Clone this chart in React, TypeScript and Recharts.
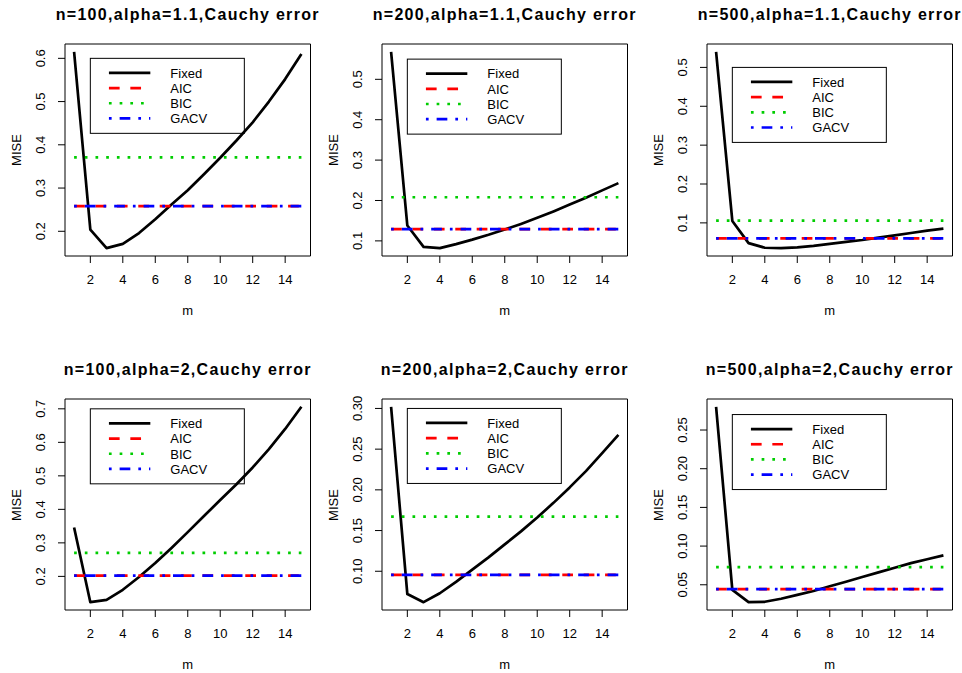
import React from 'react';
import { LineChart, Line, XAxis, YAxis, ReferenceLine, ReferenceArea, ReferenceDot } from 'recharts';

// m values on the x axis
const M = [1, 2, 3, 4, 5, 6, 7, 8, 9, 10, 11, 12, 13, 14, 15];
const X_TICKS = [2, 4, 6, 8, 10, 12, 14];

const TITLES = [
  'n=100,alpha=1.1,Cauchy error',
  'n=200,alpha=1.1,Cauchy error',
  'n=500,alpha=1.1,Cauchy error',
  'n=100,alpha=2,Cauchy error',
  'n=200,alpha=2,Cauchy error',
  'n=500,alpha=2,Cauchy error',
];

// MISE of the fixed-m estimator, one list per panel
const FIXED_100_11 = [0.615, 0.204, 0.161, 0.171, 0.196, 0.228, 0.262, 0.295, 0.332, 0.37, 0.41, 0.452, 0.5, 0.552, 0.61];
const FIXED_200_11 = [0.568, 0.138, 0.085, 0.082, 0.092, 0.103, 0.115, 0.128, 0.142, 0.157, 0.173, 0.19, 0.207, 0.225, 0.243];
const FIXED_500_11 = [0.54, 0.105, 0.048, 0.036, 0.035, 0.037, 0.041, 0.046, 0.051, 0.056, 0.062, 0.068, 0.074, 0.08, 0.085];
const FIXED_100_2 = [0.346, 0.123, 0.13, 0.16, 0.198, 0.24, 0.285, 0.332, 0.38, 0.428, 0.475, 0.525, 0.58, 0.64, 0.706];
const FIXED_200_2 = [0.302, 0.072, 0.062, 0.073, 0.087, 0.102, 0.117, 0.133, 0.149, 0.166, 0.184, 0.203, 0.223, 0.245, 0.2675];
const FIXED_500_2 = [0.28, 0.0435, 0.0275, 0.028, 0.032, 0.037, 0.042, 0.048, 0.054, 0.06, 0.066, 0.072, 0.078, 0.083, 0.088];
const FIXED = [FIXED_100_11, FIXED_200_11, FIXED_500_11, FIXED_100_2, FIXED_200_2, FIXED_500_2];

// selected-m MISE (constant over m), one value per panel
const AIC = [0.258, 0.129, 0.06, 0.202, 0.0955, 0.0443];
const BIC = [0.371, 0.208, 0.106, 0.27, 0.167, 0.0728];
const GACV = [0.258, 0.129, 0.06, 0.202, 0.0955, 0.0443];

// y tick labels per panel
const Y_TICKS = [
  ['0.2', '0.3', '0.4', '0.5', '0.6'],
  ['0.1', '0.2', '0.3', '0.4', '0.5'],
  ['0.1', '0.2', '0.3', '0.4', '0.5'],
  ['0.2', '0.3', '0.4', '0.5', '0.6', '0.7'],
  ['0.10', '0.15', '0.20', '0.25', '0.30'],
  ['0.05', '0.10', '0.15', '0.20', '0.25'],
];

// where the legend's top-left corner sits (data coords)
const LEGEND_X = 2;
const LEGEND_TOP = [0.6, 0.55, 0.5, 0.7, 0.3, 0.27];

const FONT = '"Liberation Sans", Arial, Helvetica, sans-serif';
const LW = 2.7;

const SERIES = [
  { name: 'Fixed', color: '#000000', dash: undefined as string | undefined },
  { name: 'AIC', color: '#ff0000', dash: '10.7 10.7' },
  { name: 'BIC', color: '#00cd00', dash: '2.7 8' },
  { name: 'GACV', color: '#0000ff', dash: '2.7 8 10.7 8' },
];

// layout of the plot boxes (page pixels)
const COL_LEFT = [65, 382, 707];
const ROW_TOP = [44, 399];
const ROW_H = [212, 211];
const BOX_W = 245.5;
const PANEL_W = 320;
const PANEL_H = 340;
const Y_AXIS_W = 40;
const X_AXIS_H = 30;

const YTick = (props: any) => {
  const { x, y, payload, labels } = props;
  const label = labels.find((t: string) => Number(t) === payload.value) ?? String(payload.value);
  return (
    <text
      transform={`translate(${x},${y}) rotate(-90)`}
      textAnchor="middle"
      fontSize={13}
      fontFamily={FONT}
      fill="#000"
    >
      {label}
    </text>
  );
};

const LegendBox = (props: any) => {
  const { cx, cy } = props;
  return (
    <g>
      <rect x={cx} y={cy} width={154} height={75} fill="none" stroke="#000" strokeWidth={1} />
      {SERIES.map((s, i) => {
        const ly = cy + 14.5 + i * 15.2;
        return (
          <g key={s.name}>
            <line
              x1={cx + 18.6}
              x2={cx + 60}
              y1={ly}
              y2={ly}
              stroke={s.color}
              strokeWidth={LW}
              strokeDasharray={s.dash}
            />
            <text x={cx + 80} y={ly + 4.8} fontSize={13} fontFamily={FONT} fill="#000">
              {s.name}
            </text>
          </g>
        );
      })}
    </g>
  );
};

const Panel = ({ idx }: { idx: number }) => {
  const row = Math.floor(idx / 3);
  const col = idx % 3;
  const boxLeft = COL_LEFT[col];
  const boxTop = ROW_TOP[row];
  const boxH = ROW_H[row];
  const left = boxLeft - 65;
  const top = boxTop - 44;

  const fixed = FIXED[idx];
  const data = M.map((m, i) => ({ m, fixed: fixed[i] }));

  // R style axis range: data range extended by 4% each side
  const lo = Math.min(...fixed);
  const hi = Math.max(...fixed);
  const pad = (hi - lo) * 0.04;
  const yDomain: [number, number] = [lo - pad, hi + pad];
  const xPad = (M[M.length - 1] - M[0]) * 0.04;
  const xDomain: [number, number] = [M[0] - xPad, M[M.length - 1] + xPad];

  const yTicks = Y_TICKS[idx].map(Number);
  const lines = [AIC[idx], BIC[idx], GACV[idx]];

  return (
    <div style={{ position: 'absolute', left, top, width: PANEL_W, height: PANEL_H }}>
      <LineChart
        width={PANEL_W}
        height={PANEL_H}
        data={data}
        margin={{ top: 44, right: PANEL_W - 65 - BOX_W, bottom: PANEL_H - 44 - boxH - X_AXIS_H, left: 65 - Y_AXIS_W }}
      >
        <XAxis
          dataKey="m"
          type="number"
          domain={xDomain}
          allowDataOverflow
          ticks={X_TICKS}
          interval={0}
          height={X_AXIS_H}
          axisLine={false}
          tickLine={{ stroke: '#000', strokeWidth: 1 }}
          tickSize={7}
          tickMargin={12}
          tick={{ fill: '#000', fontSize: 13, fontFamily: FONT }}
        />
        <YAxis
          type="number"
          domain={yDomain}
          allowDataOverflow
          ticks={yTicks}
          interval={0}
          width={Y_AXIS_W}
          axisLine={false}
          tickLine={{ stroke: '#000', strokeWidth: 1 }}
          tickSize={7}
          tickMargin={13}
          tick={<YTick labels={Y_TICKS[idx]} />}
        />
        <ReferenceArea
          x1={xDomain[0]}
          x2={xDomain[1]}
          y1={yDomain[0]}
          y2={yDomain[1]}
          fill="none"
          stroke="#000"
          strokeWidth={1}
          ifOverflow="visible"
        />
        <Line
          type="linear"
          dataKey="fixed"
          stroke={SERIES[0].color}
          strokeWidth={LW}
          strokeLinejoin="round"
          dot={false}
          activeDot={false}
          isAnimationActive={false}
        />
        {lines.map((v, i) => (
          <ReferenceLine
            key={SERIES[i + 1].name}
            segment={[{ x: M[0], y: v }, { x: M[M.length - 1], y: v }]}
            stroke={SERIES[i + 1].color}
            strokeWidth={LW}
            strokeDasharray={SERIES[i + 1].dash}
            ifOverflow="visible"
          />
        ))}
        <ReferenceDot x={LEGEND_X} y={LEGEND_TOP[idx]} r={0} ifOverflow="visible" shape={<LegendBox />} />
      </LineChart>

      <div
        style={{
          position: 'absolute',
          left: 65 - 40,
          width: BOX_W + 80,
          top: 44 - 24 - 15.5,
          height: 20,
          lineHeight: '20px',
          textAlign: 'center',
          fontFamily: FONT,
          fontWeight: 'bold',
          fontSize: 16,
          letterSpacing: '1.3px',
          whiteSpace: 'nowrap',
        }}
      >
        {TITLES[idx]}
      </div>
      <div
        style={{
          position: 'absolute',
          left: 65,
          width: BOX_W,
          top: 44 + boxH + 44.7,
          height: 20,
          lineHeight: '20px',
          textAlign: 'center',
          fontFamily: FONT,
          fontSize: 13,
        }}
      >
        m
      </div>
      <div
        style={{
          position: 'absolute',
          left: 65 - 48 - 50,
          width: 100,
          top: 44 + boxH / 2 - 10,
          height: 20,
          lineHeight: '20px',
          textAlign: 'center',
          fontFamily: FONT,
          fontSize: 13,
          transform: 'rotate(-90deg)',
        }}
      >
        MISE
      </div>
    </div>
  );
};

export default function App() {
  return (
    <div style={{ position: 'absolute', left: 0, top: 0, width: 962, height: 673, background: '#fff', overflow: 'hidden' }}>
      {TITLES.map((t, i) => (
        <Panel key={t} idx={i} />
      ))}
    </div>
  );
}
